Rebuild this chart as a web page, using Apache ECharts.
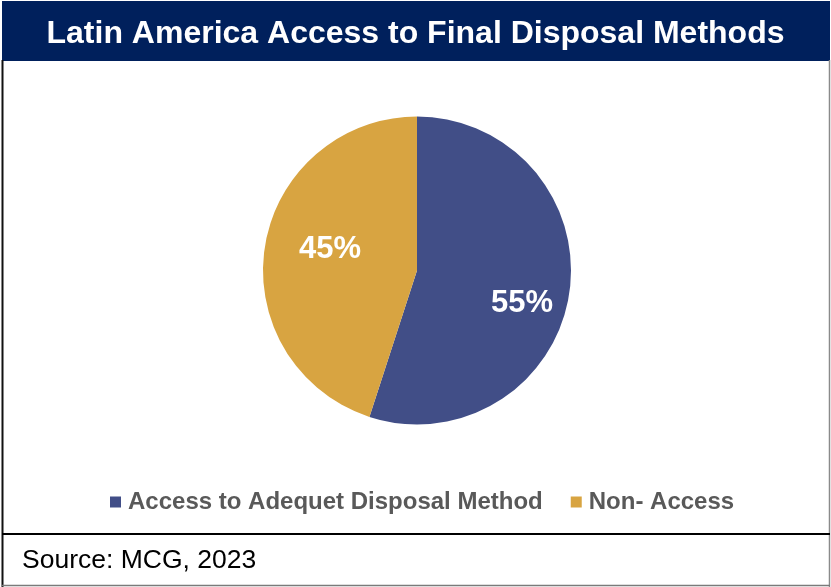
<!DOCTYPE html>
<html>
<head>
<meta charset="utf-8">
<script src="https://cdn.jsdelivr.net/npm/echarts@6/dist/echarts.min.js"></script>
<style>
  html, body { margin: 0; padding: 0; background: #ffffff; }
  #chart { width: 831px; height: 587px; }
</style>
</head>
<body>
<div id="chart"></div>
<script>
// Share of the population with access to final disposal methods
const categories = ['Access to Adequet Disposal Method', 'Non- Access'];
const shares = [55, 45];
const sliceColors = ['#414E87', '#D8A441'];
const chartTitle = 'Latin America Access to Final Disposal Methods';
const sourceNote = 'Source: MCG, 2023';

// Nudges for the in-slice percentage labels (pixels)
const labelShift = [{ dx: 26, dy: 20 }, { dx: -8, dy: -9 }];

const chart = echarts.init(document.getElementById('chart'), null, { renderer: 'canvas' });

const FONT = '"Liberation Sans", Arial, sans-serif';

chart.setOption({
  animation: false,
  backgroundColor: '#ffffff',
  color: sliceColors,
  title: {
    text: chartTitle,
    left: 'center',
    top: 13,
    textStyle: { color: '#ffffff', fontFamily: FONT, fontWeight: 'bold', fontSize: 32 }
  },
  legend: {
    bottom: 68,
    left: 105,
    itemWidth: 11,
    itemHeight: 11,
    itemGap: 28,
    icon: 'rect',
    textStyle: { color: '#595959', fontFamily: FONT, fontWeight: 'bold', fontSize: 24, padding: [0, 0, 0, 2] },
    data: categories
  },
  graphic: [
    // title banner
    { type: 'rect', z: -1, shape: { x: 2, y: 1, width: 828, height: 60 }, style: { fill: '#00205C' } },
    // frame
    { type: 'line', shape: { x1: 2.5, y1: 60, x2: 2.5, y2: 587 }, style: { stroke: '#111', lineWidth: 2 } },
    { type: 'line', shape: { x1: 829.5, y1: 60, x2: 829.5, y2: 587 }, style: { stroke: '#8a8a8a', lineWidth: 1.5 } },
    { type: 'line', shape: { x1: 2, y1: 585.5, x2: 830, y2: 585.5 }, style: { stroke: '#7a7a7a', lineWidth: 1.5 } },
    { type: 'line', shape: { x1: 2, y1: 534, x2: 830, y2: 534 }, style: { stroke: '#000', lineWidth: 2 } },
    // source note
    { type: 'text', left: 22, top: 547, style: { text: sourceNote, fill: '#000', font: '26.5px ' + FONT } }
  ],
  series: [{
    type: 'pie',
    center: [417, 270.5],
    radius: [0, 154],
    startAngle: 90,
    clockwise: true,
    silent: true,
    label: {
      show: true,
      position: 'inside',
      formatter: '{c}%',
      color: '#ffffff',
      fontFamily: FONT,
      fontWeight: 'bold',
      fontSize: 31
    },
    labelLine: { show: false },
    labelLayout: function (p) { return labelShift[p.dataIndex]; },
    itemStyle: { borderWidth: 0 },
    data: categories.map((name, i) => ({ name: name, value: shares[i] }))
  }]
});
</script>
</body>
</html>
